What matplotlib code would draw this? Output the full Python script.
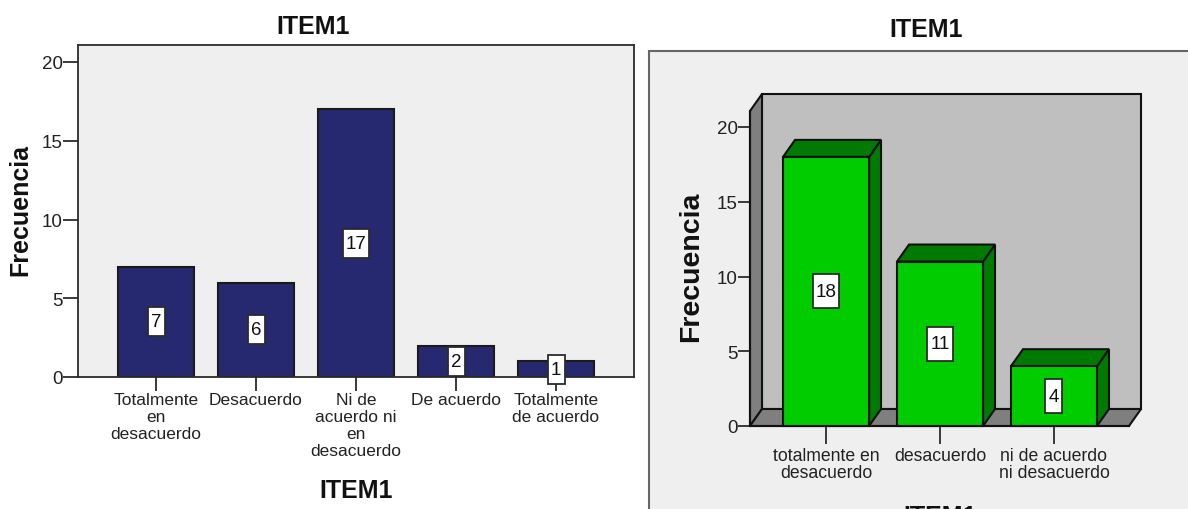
import matplotlib
matplotlib.use("Agg")
from matplotlib import pyplot as plt
from matplotlib.patches import Polygon, Rectangle

plt.rcParams["font.family"] = ["Liberation Sans", "DejaVu Sans"]

W, H = 1188, 510

left_labels = ["Totalmente\nen\ndesacuerdo", "Desacuerdo", "Ni de\nacuerdo ni\nen\ndesacuerdo", "De acuerdo", "Totalmente\nde acuerdo"]
left_values = [7, 6, 17, 2, 1]
right_labels = ["totalmente en\ndesacuerdo", "desacuerdo", "ni de acuerdo\nni desacuerdo"]
right_values = [18, 11, 4]
y_ticks = [0, 5, 10, 15, 20]

DARK = "#2b2b2b"
TEXT = "#222222"
INK = "#111111"


def px_axes(fig, x0, y_top, x1, y_bottom):
    return fig.add_axes([x0 / W, 1 - y_bottom / H, (x1 - x0) / W, (y_bottom - y_top) / H])


def value_box(ax, x, y, v, px_x, px_y, h):
    w = 17 if v < 10 else 26
    ax.add_patch(Rectangle((x - w / 2 / px_x, y - h / 2 / px_y), w / px_x, h / px_y, fc="white", ec=DARK,
                           lw=1.3, zorder=9, clip_on=False))
    ax.text(x, y, str(v), ha="center", va="center", fontsize=13.5, color=INK, zorder=10)


fig = plt.figure(figsize=(W / 100, H / 100), dpi=100, facecolor="white")

# left chart
ax1 = px_axes(fig, 78, 46, 634, 378)
ax1.set_facecolor("#efefef")
ax1.bar(range(5), left_values, width=0.76, color="#26296f", edgecolor="#1a1a1a", linewidth=1.5)
ax1.set_xlim(-0.78, 4.78)
ax1.set_ylim(0, 332 / 15.75)
ax1.set_yticks(y_ticks)
ax1.set_xticks(range(5))
ax1.set_xticklabels(left_labels, fontsize=12.5, color=TEXT, linespacing=1.17)
ax1.tick_params(axis="y", labelsize=13.5, length=11, width=1.3, color=DARK, labelcolor=TEXT, pad=0)
ax1.tick_params(axis="x", length=10, width=1.3, color=DARK, pad=1)
for s in ax1.spines.values():
    s.set_color(DARK)
    s.set_linewidth(1.3)
for i, v in enumerate(left_values):
    value_box(ax1, i, v / 2, v, 100, 15.75, 29)
fig.text(313 / W, 1 - 27 / H, "ITEM1", ha="center", va="center", fontsize=18, fontweight="bold", color=INK)
fig.text(356 / W, 1 - 491 / H, "ITEM1", ha="center", va="center", fontsize=18, fontweight="bold", color=INK)
fig.text(20 / W, 1 - 210 / H, "Frecuencia", rotation=90, ha="center", va="center", fontsize=18, fontweight="bold", color=INK)

# right chart, grey panel running off the image
fig.add_artist(Rectangle((649 / W, -0.02), (W - 649 + 5) / W, 1 - 52 / H + 0.02, transform=fig.transFigure,
                         fc="#efefef", ec="#666666", lw=1.5, zorder=-1))
fig.text(926 / W, 1 - 30 / H, "ITEM1", ha="center", va="center", fontsize=18, fontweight="bold", color=INK)

ax2 = px_axes(fig, 750, 112, 1129, 427)
ax2.patch.set_visible(False)
ax2.set_xlim(-0.667, 2.658)
ax2.set_ylim(0, 315 / 14.95)
x0, x1 = ax2.get_xlim()
y0, y1 = ax2.get_ylim()
dx = 12 / 114
dy = 17 / 14.95
bw = 86 / 114

ln = dict(ec=INK, lw=1.5, clip_on=False)
# back wall, side wall, floor
ax2.add_patch(Polygon([(x0 + dx, y0 + dy), (x1 + dx, y0 + dy), (x1 + dx, y1 + dy), (x0 + dx, y1 + dy)], fc="#bfbfbf", **ln))
ax2.add_patch(Polygon([(x0, y0), (x0 + dx, y0 + dy), (x0 + dx, y1 + dy), (x0, y1)], fc="#7f7f7f", **ln))
ax2.add_patch(Polygon([(x0, y0), (x1, y0), (x1 + dx, y0 + dy), (x0 + dx, y0 + dy)], fc="#7f7f7f", **ln))

for i, v in enumerate(right_values):
    a, b = i - bw / 2, i + bw / 2
    ax2.add_patch(Polygon([(b, 0), (b + dx, dy), (b + dx, v + dy), (b, v)], fc="#007a00", zorder=3, **ln))
    ax2.add_patch(Polygon([(a, v), (b, v), (b + dx, v + dy), (a + dx, v + dy)], fc="#007a00", zorder=3, **ln))
    ax2.add_patch(Rectangle((a, 0), bw, v, fc="#00cc00", zorder=4, **ln))
    value_box(ax2, i, v / 2, v, 114, 14.95, 34)

ax2.set_xticks(range(3))
ax2.set_xticklabels(right_labels, fontsize=12.7, color=TEXT, linespacing=1.05)
ax2.set_yticks(y_ticks)
ax2.tick_params(axis="y", labelsize=13.5, length=9, width=1.3, color=DARK, labelcolor=TEXT, pad=0)
ax2.tick_params(axis="x", length=13, width=1.3, color=DARK, pad=2)
for k in ["top", "right"]:
    ax2.spines[k].set_visible(False)
for k in ["left", "bottom"]:
    ax2.spines[k].set_color(INK)
    ax2.spines[k].set_linewidth(1.5)
fig.text(691 / W, 1 - 267 / H, "Frecuencia", rotation=90, ha="center", va="center", fontsize=20.5, fontweight="bold", color=INK)
# axis title cut by the bottom edge, as in the screenshot
fig.text(940 / W, 1 - 517 / H, "ITEM1", ha="center", va="center", fontsize=18, fontweight="bold", color=INK)

fig.savefig("out.png", dpi=100)
